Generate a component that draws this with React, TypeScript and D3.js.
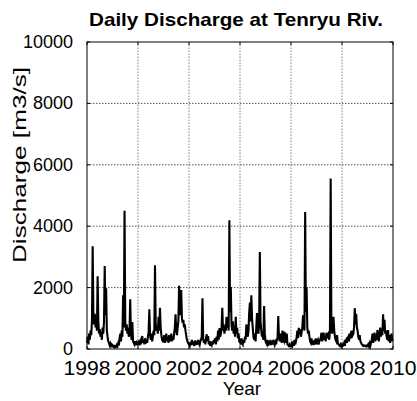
import React from "react";
import * as d3 from "d3";

// Discharge values [m3/s], 36 samples per year (~10 days apart)
const q1998 = [200, 400, 150, 500, 300, 600, 450, 900, 3350, 1200, 800, 1150, 700, 1000, 600, 2370, 900, 500, 650, 400, 550, 300, 700, 500, 900, 2700, 1100, 1980, 600, 400, 250, 200, 120, 180, 100, 150];
const q1999 = [120, 80, 100, 60, 90, 70, 130, 90, 180, 120, 350, 500, 250, 600, 400, 1750, 700, 4500, 900, 600, 800, 500, 700, 400, 550, 1620, 500, 300, 880, 250, 200, 150, 250, 120, 200, 150];
const q2000 = [150, 280, 120, 220, 150, 350, 420, 200, 300, 150, 350, 180, 300, 200, 400, 550, 1290, 450, 300, 500, 250, 400, 600, 450, 2730, 800, 600, 700, 500, 1050, 600, 1340, 700, 450, 300, 250];
const q2001 = [250, 450, 200, 350, 500, 250, 400, 200, 450, 250, 350, 500, 250, 400, 300, 500, 700, 1130, 600, 450, 700, 900, 2060, 1100, 1300, 1920, 1000, 850, 950, 700, 800, 600, 450, 300, 250, 180];
const q2002 = [150, 100, 220, 130, 300, 150, 250, 100, 180, 280, 130, 250, 150, 300, 180, 130, 250, 300, 400, 1650, 350, 200, 300, 150, 350, 480, 250, 420, 150, 250, 100, 180, 130, 250, 150, 300];
const q2003 = [200, 350, 150, 400, 250, 600, 300, 680, 400, 500, 700, 1340, 600, 800, 500, 700, 600, 1050, 700, 900, 600, 4190, 1200, 2020, 800, 600, 900, 500, 700, 400, 1050, 500, 690, 350, 500, 250];
const q2004 = [250, 150, 350, 200, 150, 300, 200, 400, 300, 800, 500, 400, 600, 1200, 1510, 900, 1750, 1000, 700, 400, 300, 500, 250, 700, 1170, 600, 500, 800, 3160, 900, 600, 400, 500, 300, 1400, 500];
const q2005 = [250, 200, 150, 300, 100, 250, 150, 300, 130, 250, 150, 300, 200, 130, 220, 150, 300, 350, 1070, 400, 250, 500, 300, 200, 600, 300, 250, 560, 400, 200, 500, 150, 130, 100, 150, 100];
const q2006 = [100, 180, 120, 250, 100, 300, 150, 250, 400, 600, 350, 690, 500, 650, 400, 550, 700, 1100, 800, 600, 4460, 1200, 2020, 700, 500, 600, 400, 250, 200, 350, 150, 250, 130, 300, 150, 350];
const q2007 = [150, 250, 300, 150, 250, 300, 350, 530, 250, 400, 530, 300, 400, 250, 530, 350, 450, 500, 300, 600, 5550, 800, 500, 650, 1050, 600, 400, 300, 250, 450, 200, 150, 130, 100, 150, 100];
const q2008 = [150, 100, 130, 200, 100, 250, 300, 200, 350, 400, 250, 450, 500, 350, 600, 450, 500, 700, 1330, 800, 1150, 700, 600, 400, 300, 450, 250, 200, 150, 130, 100, 120, 100, 90, 110, 80];
const q2009 = [100, 150, 90, 180, 100, 200, 300, 500, 200, 400, 530, 250, 450, 300, 620, 400, 250, 500, 700, 400, 600, 450, 1130, 600, 950, 500, 600, 400, 300, 620, 250, 450, 200, 400, 500, 250];

const years = [1998, 1999, 2000, 2001, 2002, 2003, 2004, 2005, 2006, 2007, 2008, 2009];
const yearly = [q1998, q1999, q2000, q2001, q2002, q2003, q2004, q2005, q2006, q2007, q2008, q2009];

const xTicks = [1998, 2000, 2002, 2004, 2006, 2008, 2010];
const yTicks = [0, 2000, 4000, 6000, 8000, 10000];

const title = "Daily Discharge at Tenryu Riv.";
const xLabel = "Year";
const yLabel = "Discharge [m3/s]";

const W = 417;
const H = 401;
const M = { left: 87, right: 417 - 393, top: 42, bottom: 401 - 349 };

export default function App() {
  const data: [number, number][] = [];
  yearly.forEach((arr, yi) => {
    arr.forEach((v, k) => data.push([years[yi] + k / arr.length, v]));
  });

  const x = d3.scaleLinear().domain([1998, 2010]).range([M.left, W - M.right]);
  const y = d3.scaleLinear().domain([0, 10000]).range([H - M.bottom, M.top]);
  const line = d3
    .line<[number, number]>()
    .x((d) => x(d[0]))
    .y((d) => y(d[1]));

  const font = "Arial, 'Liberation Sans', sans-serif";
  const x0 = M.left;
  const x1 = W - M.right;
  const y0 = H - M.bottom;
  const y1 = M.top;

  return (
    <svg
      width={W}
      height={H}
      style={{ position: "absolute", left: 0, top: 0, background: "#fff" }}
      fontFamily={font}
    >
      <rect x={0} y={0} width={W} height={H} fill="#fff" />
      {/* grid */}
      {xTicks.slice(1, -1).map((t) => (
        <line key={"gx" + t} x1={x(t)} x2={x(t)} y1={y0} y2={y1} stroke="#808080" strokeWidth={1} strokeDasharray="1.5,1.5" />
      ))}
      {yTicks.slice(1, -1).map((t) => (
        <line key={"gy" + t} x1={x0} x2={x1} y1={y(t)} y2={y(t)} stroke="#555" strokeWidth={1} strokeDasharray="1.5,1.5" />
      ))}
      {/* data */}
      <path d={line(data) || ""} fill="none" stroke="#000" strokeWidth={2.1} strokeLinejoin="miter" />
      {/* ticks */}
      {xTicks.map((t) => (
        <g key={"tx" + t}>
          <line x1={x(t)} x2={x(t)} y1={y0} y2={y0 - 3} stroke="#000" />
          <line x1={x(t)} x2={x(t)} y1={y1} y2={y1 + 3} stroke="#000" />
        </g>
      ))}
      {yTicks.map((t) => (
        <g key={"ty" + t}>
          <line x1={x0} x2={x0 + 3} y1={y(t)} y2={y(t)} stroke="#000" />
          <line x1={x1} x2={x1 - 3} y1={y(t)} y2={y(t)} stroke="#000" />
        </g>
      ))}
      {/* box */}
      <rect x={x0} y={y1} width={x1 - x0} height={y0 - y1} fill="none" stroke="#000" strokeWidth={1} />
      {/* tick labels */}
      {xTicks.map((t) => (
        <text
          key={"lx" + t}
          x={x(t)}
          y={y0 + 26}
          textAnchor="middle"
          fontSize={19.5}
          textLength={47}
          lengthAdjust="spacingAndGlyphs"
          fill="#000"
        >
          {t}
        </text>
      ))}
      {yTicks.map((t) => (
        <text key={"ly" + t} x={x0 - 14} y={y(t) + 6} textAnchor="end" fontSize={18} fill="#000">
          {t}
        </text>
      ))}
      {/* labels */}
      <text
        x={(x0 + x1) / 2 - 4}
        y={26}
        textAnchor="middle"
        fontSize={19}
        fontWeight="bold"
        textLength={294}
        lengthAdjust="spacingAndGlyphs"
        fill="#000"
      >
        {title}
      </text>
      <text x={(x0 + x1) / 2 + 2} y={395} textAnchor="middle" fontSize={19} fill="#000">
        {xLabel}
      </text>
      <text
        transform={`translate(26,${165}) rotate(-90)`}
        textAnchor="middle"
        fontSize={18}
        textLength={196}
        lengthAdjust="spacingAndGlyphs"
        fill="#000"
      >
        {yLabel}
      </text>
    </svg>
  );
}
